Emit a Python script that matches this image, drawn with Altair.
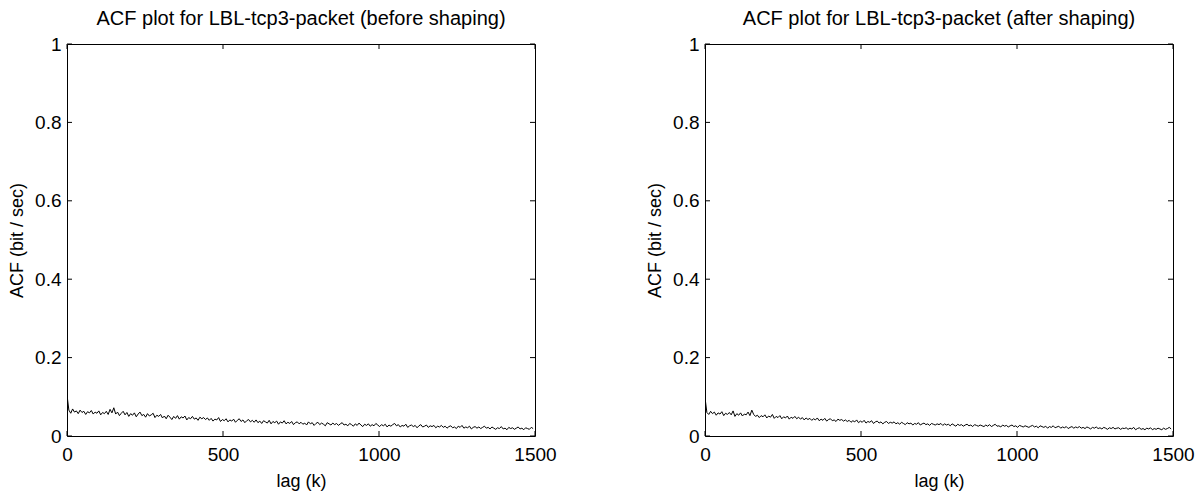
import altair as alt
import pandas as pd

# lag index (every 6th lag)
lags = list(range(0, 1500, 6))

acf_before = [
    0.105, 0.066, 0.058, 0.069, 0.061, 0.064, 0.057, 0.066, 0.060, 0.063, 0.055, 0.062, 0.059, 0.065, 0.056, 0.061, 0.058, 0.064, 0.054, 0.060, 0.057, 0.063, 0.055, 0.068, 0.059,
    0.072, 0.056, 0.061, 0.052, 0.058, 0.063, 0.054, 0.060, 0.050, 0.057, 0.053, 0.059, 0.049, 0.056, 0.061, 0.052, 0.055, 0.048, 0.057, 0.051, 0.054, 0.058, 0.047, 0.053, 0.050,
    0.055, 0.046, 0.051, 0.044, 0.053, 0.048, 0.042, 0.050, 0.045, 0.052, 0.043, 0.049, 0.046, 0.051, 0.041, 0.047, 0.044, 0.050, 0.043, 0.046, 0.040, 0.048, 0.044, 0.047, 0.042,
    0.046, 0.040, 0.045, 0.038, 0.043, 0.041, 0.047, 0.037, 0.042, 0.039, 0.044, 0.036, 0.041, 0.038, 0.043, 0.035, 0.040, 0.044, 0.037, 0.041, 0.034, 0.039, 0.042, 0.036, 0.040,
    0.035, 0.041, 0.034, 0.038, 0.032, 0.039, 0.036, 0.033, 0.040, 0.031, 0.037, 0.034, 0.038, 0.030, 0.036, 0.033, 0.039, 0.031, 0.035, 0.032, 0.037, 0.029, 0.034, 0.036, 0.031,
    0.035, 0.030, 0.033, 0.028, 0.036, 0.031, 0.034, 0.027, 0.032, 0.035, 0.029, 0.033, 0.030, 0.026, 0.034, 0.031, 0.028, 0.033, 0.029, 0.032, 0.027, 0.031, 0.034, 0.028, 0.030,
    0.026, 0.032, 0.029, 0.025, 0.031, 0.027, 0.033, 0.028, 0.024, 0.030, 0.027, 0.031, 0.025, 0.029, 0.026, 0.032, 0.028, 0.024, 0.029, 0.026, 0.030, 0.023, 0.028, 0.025, 0.029,
    0.032, 0.026, 0.029, 0.023, 0.027, 0.025, 0.030, 0.022, 0.026, 0.028, 0.024, 0.027, 0.021, 0.026, 0.029, 0.023, 0.025, 0.028, 0.022, 0.026, 0.024, 0.027, 0.021, 0.025, 0.023,
    0.027, 0.022, 0.025, 0.020, 0.024, 0.026, 0.021, 0.023, 0.019, 0.025, 0.022, 0.027, 0.020, 0.023, 0.021, 0.025, 0.018, 0.022, 0.024, 0.020, 0.023, 0.019, 0.022, 0.025, 0.020,
    0.022, 0.018, 0.023, 0.020, 0.017, 0.021, 0.019, 0.024, 0.018, 0.020, 0.016, 0.022, 0.019, 0.021, 0.017, 0.020, 0.023, 0.018, 0.020, 0.016, 0.021, 0.019, 0.017, 0.022, 0.019,
]

acf_after = [
    0.098, 0.060, 0.055, 0.063, 0.057, 0.061, 0.053, 0.059, 0.056, 0.062, 0.052, 0.058, 0.055, 0.060, 0.054, 0.064, 0.050, 0.057, 0.053, 0.059, 0.051, 0.056, 0.054, 0.061, 0.052,
    0.066, 0.055, 0.050, 0.053, 0.047, 0.052, 0.049, 0.054, 0.046, 0.051, 0.048, 0.055, 0.045, 0.050, 0.047, 0.052, 0.044, 0.049, 0.046, 0.051, 0.043, 0.048, 0.045, 0.050, 0.044,
    0.048, 0.043, 0.047, 0.041, 0.046, 0.042, 0.045, 0.040, 0.044, 0.041, 0.046, 0.039, 0.043, 0.040, 0.045, 0.038, 0.042, 0.044, 0.039, 0.041, 0.037, 0.043, 0.040, 0.042, 0.038,
    0.041, 0.037, 0.040, 0.035, 0.039, 0.036, 0.041, 0.034, 0.038, 0.035, 0.040, 0.033, 0.037, 0.035, 0.039, 0.032, 0.036, 0.038, 0.033, 0.036, 0.031, 0.035, 0.037, 0.032, 0.035,
    0.033, 0.036, 0.031, 0.034, 0.030, 0.035, 0.032, 0.029, 0.034, 0.031, 0.033, 0.028, 0.032, 0.030, 0.034, 0.028, 0.031, 0.033, 0.029, 0.031, 0.027, 0.032, 0.030, 0.028, 0.031,
    0.029, 0.032, 0.027, 0.031, 0.028, 0.030, 0.026, 0.031, 0.028, 0.025, 0.030, 0.027, 0.029, 0.025, 0.028, 0.030, 0.026, 0.028, 0.024, 0.029, 0.027, 0.025, 0.028, 0.026, 0.024,
    0.028, 0.025, 0.029, 0.024, 0.027, 0.030, 0.025, 0.026, 0.023, 0.028, 0.025, 0.027, 0.023, 0.026, 0.028, 0.024, 0.026, 0.022, 0.027, 0.025, 0.023, 0.026, 0.024, 0.022, 0.025,
    0.027, 0.023, 0.025, 0.021, 0.026, 0.024, 0.022, 0.025, 0.020, 0.024, 0.022, 0.026, 0.021, 0.023, 0.025, 0.020, 0.023, 0.021, 0.024, 0.019, 0.022, 0.024, 0.020, 0.023, 0.021,
    0.024, 0.020, 0.022, 0.019, 0.023, 0.021, 0.018, 0.022, 0.020, 0.023, 0.019, 0.021, 0.018, 0.022, 0.020, 0.017, 0.021, 0.019, 0.022, 0.018, 0.020, 0.021, 0.017, 0.020, 0.019,
    0.021, 0.017, 0.020, 0.018, 0.022, 0.016, 0.019, 0.021, 0.017, 0.019, 0.016, 0.020, 0.018, 0.021, 0.016, 0.019, 0.017, 0.020, 0.018, 0.016, 0.020, 0.017, 0.019, 0.022, 0.018,
]

x_ticks = [0, 500, 1000, 1500]
y_ticks = [0, 0.2, 0.4, 0.6, 0.8, 1]
titles = ["ACF plot for LBL-tcp3-packet (before shaping)",
          "ACF plot for LBL-tcp3-packet (after shaping)"]

W, H = 468, 392
FONT = "Liberation Sans"
TL = 5  # inward tick length

xdf = pd.DataFrame({"lag": x_ticks})
ydf = pd.DataFrame({"acf": y_ticks})


def panel(values, title):
    df = pd.DataFrame({"lag": lags, "acf": values})
    xs = alt.Scale(domain=[0, 1500], nice=False, zero=False)
    ys = alt.Scale(domain=[0, 1], nice=False)
    line = alt.Chart(df).mark_line(color="black", strokeWidth=1, clip=True).encode(
        x=alt.X("lag:Q", scale=xs, title="lag (k)",
                axis=alt.Axis(values=x_ticks, format="d", ticks=False, domain=False,
                              grid=False, labelFlush=False, labelPadding=9, titlePadding=8)),
        y=alt.Y("acf:Q", scale=ys, title="ACF (bit / sec)",
                axis=alt.Axis(values=y_ticks, format="~g", ticks=False, domain=False,
                              grid=False, labelPadding=6, titlePadding=8)),
    )
    xb = alt.Chart(xdf).mark_rule(color="black").encode(
        x="lag:Q", y=alt.value(H), y2=alt.value(H - TL))
    xt = alt.Chart(xdf).mark_rule(color="black").encode(
        x="lag:Q", y=alt.value(0), y2=alt.value(TL))
    yl = alt.Chart(ydf).mark_rule(color="black").encode(
        y="acf:Q", x=alt.value(0), x2=alt.value(TL))
    yr = alt.Chart(ydf).mark_rule(color="black").encode(
        y="acf:Q", x=alt.value(W), x2=alt.value(W - TL))
    return alt.layer(line, xb, xt, yl, yr).properties(
        width=W, height=H,
        title=alt.Title(title, fontSize=20, fontWeight="normal", font=FONT,
                        color="black", offset=6),
    )


chart = alt.hconcat(
    panel(acf_before, titles[0]),
    panel(acf_after, titles[1]),
    spacing=89,
).properties(padding=0, background="white").configure_view(
    stroke="black", strokeWidth=1
).configure_axis(
    labelFont=FONT, titleFont=FONT, labelFontSize=19, titleFontSize=18,
    labelColor="black", titleColor="black", titleFontWeight="normal",
)

chart.save("out.html", embed_options={"renderer": "svg", "actions": False})
